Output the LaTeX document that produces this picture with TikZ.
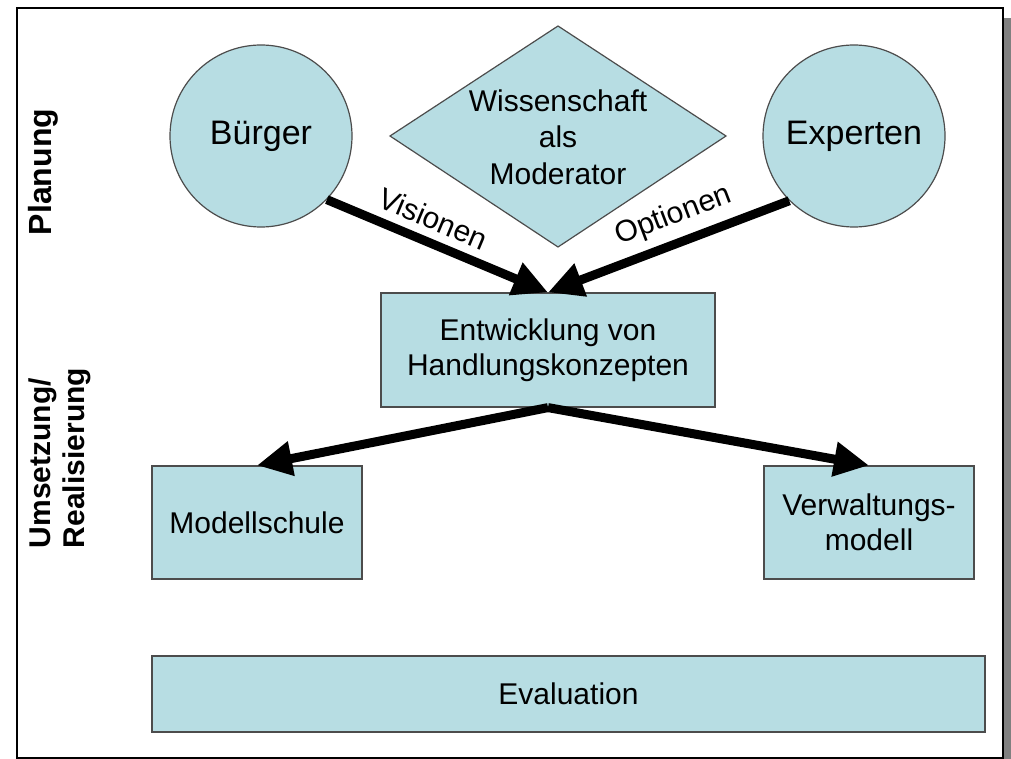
\documentclass[tikz,border=0pt]{standalone}
\usepackage{fontspec}
\setmainfont{Liberation Sans}
\usepackage{tikz}
\usetikzlibrary{arrows.meta,positioning,shapes.geometric}
\definecolor{boxfill}{RGB}{183,221,227}
\definecolor{shadowgray}{RGB}{128,128,128}

\begin{document}
\begin{tikzpicture}[x=1pt,y=-1pt,
    box/.style={draw=black!70, line width=1.2pt, fill=boxfill, inner sep=0pt, align=center, font=\fontsize{30}{35}\selectfont},
    person/.style={circle, draw=black!70, line width=1.2pt, fill=boxfill, minimum size=182pt, inner sep=0pt, font=\fontsize{34}{40}\selectfont},
    flow/.style={line width=9pt, -{Triangle[length=35pt,width=33pt]}},
    flowlabel/.style={sloped, above=5pt, pos=0.44, font=\fontsize{30}{36}\selectfont},
    phase/.style={rotate=90, align=left, font=\bfseries\fontsize{30}{34}\selectfont}]
    \useasboundingbox (0,0) rectangle (1011,759);

    % Frame with shadow
    \fill[shadowgray] (25,18) rectangle (1017,770);
    \draw[fill=white, line width=1.5pt] (17,8) rectangle (1003,758);

    % Phases
    \node[phase, font=\bfseries\fontsize{32}{34}\selectfont] (planung) at (43,172) {Planung};
    \node[phase] (umsetzung) at (60,458) {Umsetzung/\\Realisierung};

    % Actors
    \node[person] (buerger) at (261,136) {Bürger};
    \node[person] (experten) at (854,136) {Experten};

    % Moderator
    \draw[draw=black!70, line width=1.2pt, fill=boxfill] (558,26) -- (726,136) -- (558,247) -- (390,136) -- cycle;
    \node[align=center, font=\fontsize{30}{36.5}\selectfont] (wiss) at (558,137) {Wissenschaft\\als\\Moderator};

    % Concepts and realisation
    \node[box, minimum width=334pt, minimum height=114pt] (entw) at (548,350) {Entwicklung von\\Handlungskonzepten};
    \node[box, minimum width=210pt, minimum height=113pt] (modell) at (257,522.5) {Modellschule};
    \node[box, minimum width=210pt, minimum height=113pt] (verw) at (869,522.5) {Verwaltungs-\\modell};
    \node[box, minimum width=833pt, minimum height=76pt] (eval) at (568.5,694) {Evaluation};

    % Arrows
    \draw[flow] (buerger.-44) -- node[flowlabel] {Visionen} (entw.north);
    \draw[flow] (experten.-135) -- node[flowlabel] {Optionen} (entw.north);
    \draw[flow] (entw.south) -- (modell.north);
    \draw[flow] (entw.south) -- (verw.north);

\end{tikzpicture}
\end{document}
